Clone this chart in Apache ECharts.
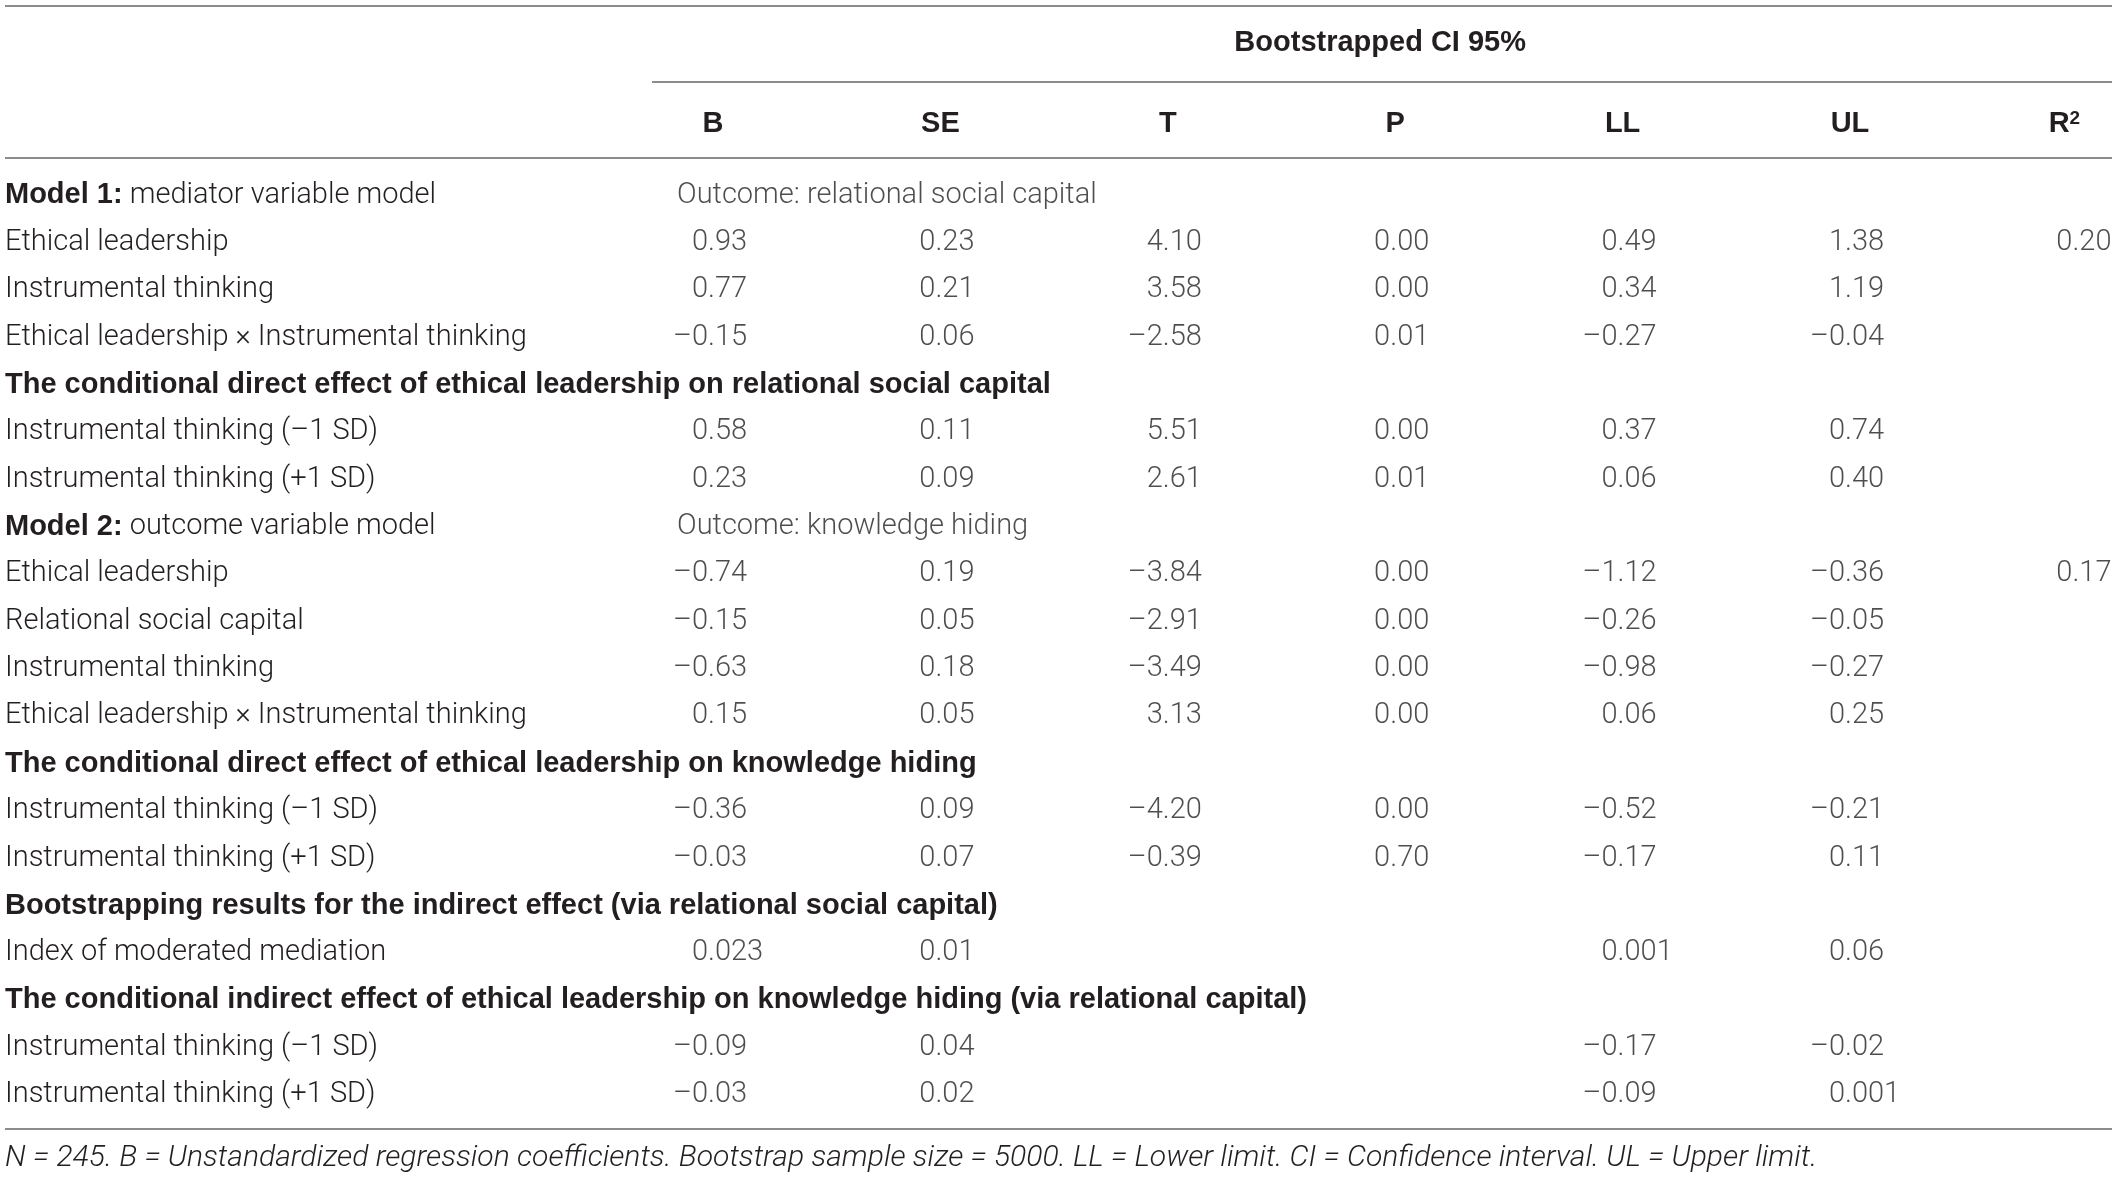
<!DOCTYPE html>
<html lang="en">
<head>
<meta charset="UTF-8" />
<title>Moderated mediation table</title>
<script src="https://cdn.jsdelivr.net/npm/echarts@6/dist/echarts.min.js"></script>
<style>
	html, body { margin: 0; padding: 0; background: #fff; }
	#main { width: 2117px; height: 1177px; }
</style>
</head>
<body>
<div id="main"></div>
<script>
	// column heads (x axis) and row labels (y axis)
	var colHeads = ['B', 'SE', 'T', 'P', 'LL', 'UL', 'R²'];
	var rowLabels = [
		'Model 1: mediator variable model',
		'Ethical leadership',
		'Instrumental thinking',
		'Ethical leadership × Instrumental thinking',
		'The conditional direct effect of ethical leadership on relational social capital',
		'Instrumental thinking (–1 SD)',
		'Instrumental thinking (+1 SD)',
		'Model 2: outcome variable model',
		'Ethical leadership',
		'Relational social capital',
		'Instrumental thinking',
		'Ethical leadership × Instrumental thinking',
		'The conditional direct effect of ethical leadership on knowledge hiding',
		'Instrumental thinking (–1 SD)',
		'Instrumental thinking (+1 SD)',
		'Bootstrapping results for the indirect effect (via relational social capital)',
		'Index of moderated mediation',
		'The conditional indirect effect of ethical leadership on knowledge hiding (via relational capital)',
		'Instrumental thinking (–1 SD)',
		'Instrumental thinking (+1 SD)'
	];
	var sectionRows = [4, 12, 15, 17];
	var outcomes = ['Outcome: relational social capital', '', '', '', '', '', '',
		'Outcome: knowledge hiding', '', '', '', '', '', '', '', '', '', '', '', ''];

	// cell values, one array per column
	var colB  = ['', '0.93', '0.77', '–0.15', '', '0.58', '0.23', '', '–0.74', '–0.15', '–0.63', '0.15', '', '–0.36', '–0.03', '', '0.023', '', '–0.09', '–0.03'];
	var colSE = ['', '0.23', '0.21', '0.06', '', '0.11', '0.09', '', '0.19', '0.05', '0.18', '0.05', '', '0.09', '0.07', '', '0.01', '', '0.04', '0.02'];
	var colT  = ['', '4.10', '3.58', '–2.58', '', '5.51', '2.61', '', '–3.84', '–2.91', '–3.49', '3.13', '', '–4.20', '–0.39', '', '', '', '', ''];
	var colP  = ['', '0.00', '0.00', '0.01', '', '0.00', '0.01', '', '0.00', '0.00', '0.00', '0.00', '', '0.00', '0.70', '', '', '', '', ''];
	var colLL = ['', '0.49', '0.34', '–0.27', '', '0.37', '0.06', '', '–1.12', '–0.26', '–0.98', '0.06', '', '–0.52', '–0.17', '', '0.001', '', '–0.17', '–0.09'];
	var colUL = ['', '1.38', '1.19', '–0.04', '', '0.74', '0.40', '', '–0.36', '–0.05', '–0.27', '0.25', '', '–0.21', '0.11', '', '0.06', '', '–0.02', '0.001'];
	var colR2 = ['', '0.20', '', '', '', '', '', '', '0.17', '', '', '', '', '', '', '', '', '', '', ''];

	var columns = [colB, colSE, colT, colP, colLL, colUL, colR2];

	var FONT = 'Roboto, "Liberation Sans", sans-serif';
	var BOLD = '"Liberation Sans", Arial, sans-serif';
	var SIZE = 29;
	var INK = '#231f20';
	var RULE = '#8c8c8c';

	// split numbers at the decimal point so they line up
	var intData = [], fracData = [], outData = [];
	columns.forEach(function (col, c) {
		col.forEach(function (v, r) {
			if (!v) return;
			var k = v.indexOf('.');
			intData.push([c, r, v.slice(0, k)]);
			fracData.push([c, r, v.slice(k)]);
		});
	});
	outcomes.forEach(function (t, r) {
		if (t) outData.push([0, r, t]);
	});

	var mychart = echarts.init(document.getElementById('main'));

	function cellLabel(align, dx) {
		return {
			show: true,
			position: 'inside',
			align: align,
			verticalAlign: 'middle',
			offset: [dx, 0],
			formatter: function (p) { return p.value[2]; },
			fontFamily: FONT,
			fontWeight: 300,
			fontSize: SIZE,
			color: INK
		};
	}

	mychart.setOption({
		animation: false,
		title: {
			text: 'N = 245. B = Unstandardized regression coefficients. Bootstrap sample size = 5000. LL = Lower limit. CI = Confidence interval. UL = Upper limit.',
			left: 5,
			top: 1143,
			padding: 0,
			textStyle: { fontFamily: FONT, fontWeight: 300, fontStyle: 'italic', fontSize: 30.1, color: INK }
		},
		grid: { left: 599.3, width: 1591.8, top: 171.6, height: 947.2, outerBoundsMode: 'none' },
		xAxis: {
			type: 'category',
			position: 'top',
			offset: 13.6,
			data: colHeads,
			name: 'Bootstrapped CI 95%',
			nameLocation: 'middle',
			nameGap: 115,
			nameTextStyle: {
				fontFamily: BOLD, fontWeight: 'bold', fontSize: SIZE, color: INK,
				verticalAlign: 'middle', padding: [0, 30, 0, 0]
			},
			axisLine: { show: false },
			axisTick: { show: false },
			splitLine: { show: false },
			axisLabel: {
				interval: 0,
				margin: 34,
				verticalAlign: 'middle',
				fontFamily: BOLD,
				fontWeight: 'bold',
				fontSize: SIZE,
				color: INK,
				formatter: function (v) {
					return v === 'R²' ? '{h|R}{s|2}' : '{h|' + v + '}';
				},
				rich: {
					h: { fontFamily: BOLD, fontWeight: 'bold', fontSize: SIZE, color: INK },
					s: { fontFamily: BOLD, fontWeight: 'bold', fontSize: 19, color: INK, verticalAlign: 'top', padding: [0, 26, 0, 0] }
				}
			}
		},
		yAxis: {
			type: 'category',
			inverse: true,
			data: rowLabels,
			axisLine: { show: false },
			axisTick: { show: false },
			splitLine: { show: false },
			axisLabel: {
				interval: 0,
				align: 'left',
				margin: 594.3,
				formatter: function (v, i) {
					var m = v.match(/^(Model \d+:)(.*)$/);
					if (m) return '{b|' + m[1] + '}{n|' + m[2] + '}';
					if (sectionRows.indexOf(i) >= 0) return '{b|' + v + '}';
					return '{n|' + v + '}';
				},
				rich: {
					b: { fontFamily: BOLD, fontWeight: 'bold', fontSize: SIZE, color: INK },
					n: { fontFamily: FONT, fontWeight: 300, fontSize: SIZE, color: INK }
				}
			}
		},
		series: [
			{ name: 'int', type: 'scatter', symbolSize: 0, data: intData, label: cellLabel('right', -5), silent: true },
			{ name: 'frac', type: 'scatter', symbolSize: 0, data: fracData, label: cellLabel('left', -5), silent: true },
			{ name: 'outcome', type: 'scatter', symbolSize: 0, data: outData, label: cellLabel('left', -36), silent: true }
		],
		graphic: [
			{ type: 'line', shape: { x1: 5, y1: 6, x2: 2112, y2: 6 }, style: { stroke: RULE, lineWidth: 2 } },
			{ type: 'line', shape: { x1: 652, y1: 82, x2: 2112, y2: 82 }, style: { stroke: RULE, lineWidth: 2 } },
			{ type: 'line', shape: { x1: 5, y1: 158, x2: 2112, y2: 158 }, style: { stroke: RULE, lineWidth: 2 } },
			{ type: 'line', shape: { x1: 5, y1: 1129, x2: 2112, y2: 1129 }, style: { stroke: RULE, lineWidth: 2 } }
		]
	});
</script>
</body>
</html>
